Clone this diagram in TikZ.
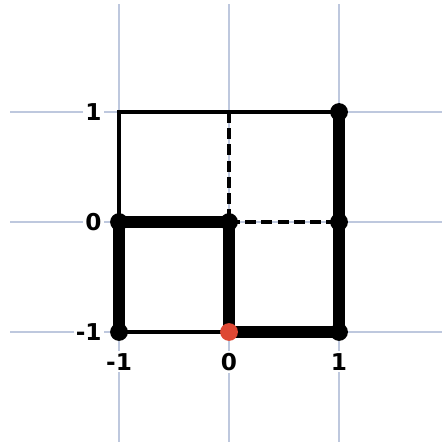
\documentclass[tikz,border=0pt]{standalone}
\usepackage{fontspec}
\setmainfont{DejaVu Sans}
\usetikzlibrary{positioning}
\definecolor{gridblue}{RGB}{190,200,222}
\definecolor{dotred}{RGB}{222,72,52}
\tikzset{
    % background grid
    gline/.style={gridblue, line width=0.45pt},
    % edges
    thinedge/.style={line width=1pt},
    thickedge/.style={line width=3pt},
    dashedge/.style={line width=1.2pt, dash pattern=on 2.8pt off 1.4pt},
    % vertices
    vdot/.style={circle, fill=black, inner sep=0pt, minimum size=4.6pt},
    rdot/.style={vdot, fill=dotred},
    % axis labels
    axlbl/.style={font=\fontsize{6}{7}\selectfont\bfseries, fill=white, inner sep=0.6pt},
}

\begin{document}
\begin{tikzpicture}
\useasboundingbox (-2.082,-2.0) rectangle (1.936,2.018);

% grid
\foreach \v in {-1,0,1} {
    \draw[gline] (-1.99,\v) -- (1.936,\v);
    \draw[gline] (\v,1.98) -- (\v,-2.0);
}

\coordinate (tl) at (-1,1);
\coordinate (tc) at (0,1);
\coordinate (tr) at (1,1);
\coordinate (ml) at (-1,0);
\coordinate (mc) at (0,0);
\coordinate (mr) at (1,0);
\coordinate (bl) at (-1,-1);
\coordinate (bc) at (0,-1);
\coordinate (br) at (1,-1);

% labels
\node[axlbl, anchor=east] (y1)  at (-1.13,1)  {1};
\node[axlbl, anchor=east] (y0)  at (-1.13,0)  {0};
\node[axlbl, anchor=east] (ym1) at (-1.13,-1) {-1};
\node[axlbl] (xm1) at (-1,-1.27) {-1};
\node[axlbl] (x0)  at (0,-1.27)  {0};
\node[axlbl] (x1)  at (1,-1.27)  {1};

\draw[thinedge] (ml) -- (tl) -- (tr);
\draw[thinedge] (bl) -- (bc);
\draw[dashedge] (tc) -- (mc);
\draw[dashedge] (mc) -- (mr);
\draw[thickedge] (ml) -- (mc) -- (bc) -- (br) -- (tr);
\draw[thickedge] (ml) -- (bl);

\foreach \p in {tr,ml,mc,mr,bl,br}
    \node[vdot] at (\p) {};
\node[rdot] at (bc) {};
\end{tikzpicture}
\end{document}
